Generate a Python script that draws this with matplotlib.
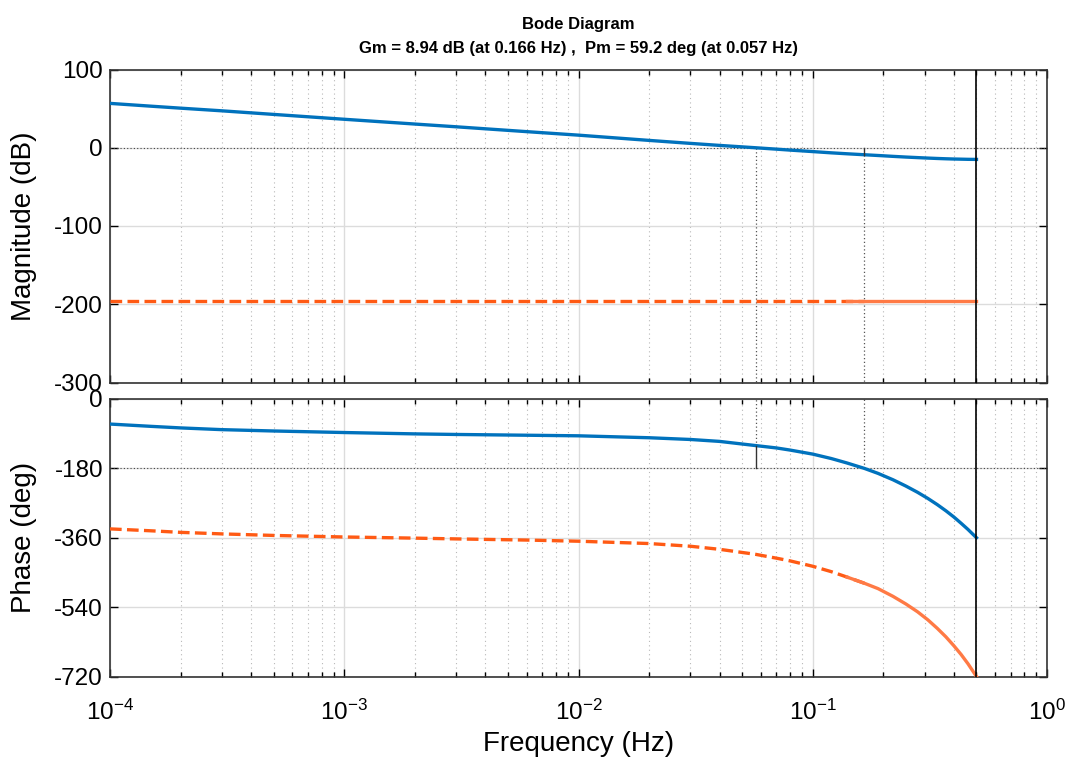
import numpy as np
import matplotlib
matplotlib.use("Agg")
import matplotlib.pyplot as plt
from matplotlib.ticker import LogLocator, NullFormatter

plt.rcParams['font.family'] = ['Liberation Sans', 'DejaVu Sans']
plt.rcParams['mathtext.fontset'] = 'custom'
plt.rcParams['mathtext.rm'] = 'Liberation Sans'
plt.rcParams['axes.unicode_minus'] = False

# values (frequency in Hz)
freq = [1e-4, 1.5e-4, 2e-4, 3e-4, 5e-4, 1e-3, 2e-3, 3e-3, 6e-3, 1e-2,
        2e-2, 3e-2, 4e-2, 0.057, 0.07, 0.08, 0.1, 0.12, 0.14, 0.166,
        0.19, 0.22, 0.25, 0.28, 0.31, 0.34, 0.37, 0.4, 0.43, 0.46, 0.5]
mag_open = [56.7, 53.1, 50.6, 47.2, 42.6, 36.4, 30.3, 26.8, 20.6, 16.1,
            9.4, 5.6, 3.0, 0.0, -1.8, -3.0, -4.9, -6.5, -7.7, -8.94,
            -9.9, -11.0, -11.9, -12.6, -13.2, -13.7, -14.1, -14.4, -14.6, -14.8, -14.9]
mag_other = [-196] * len(freq)
phase_open = [-65, -71, -75, -79.5, -83, -87, -90.5, -92, -94, -95.5,
              -100.5, -105, -110, -120.8, -127, -132.5, -143, -154.5, -166, -180,
              -193, -209.5, -226, -242, -258, -274, -290, -306, -322.5, -338.5, -360]
phase_other = [-337, -342, -346, -350, -354, -358, -361, -363, -366, -369,
               -375, -382, -390, -403, -413, -420, -434, -448, -462, -478,
               -492, -512, -532, -552, -573, -595, -617, -640, -663, -687, -720]

gm_freq, gm_db = 0.166, 8.94
pm_freq, pm_deg = 0.057, 59.2
nyq = 0.5

blue = '#0072BD'
orange = '#FF5A14'
orange_light = '#FF7A45'

fig = plt.figure(figsize=(10.7, 7.62), dpi=100)
ax1 = fig.add_axes([110 / 1070, 1 - 382.5 / 762, 937 / 1070, 313 / 762])
ax2 = fig.add_axes([110 / 1070, 1 - 676.5 / 762, 937 / 1070, 277.5 / 762])

f = np.array(freq)
dash_part = f <= 0.15
dash_part[np.argmin(dash_part)] = True      # overlap one point so the two parts join
solid_part = f >= 0.14

for ax in (ax1, ax2):
    ax.set_xscale('log')
    ax.set_xlim(1e-4, 1)
    ax.xaxis.set_major_locator(LogLocator(base=10, numticks=10))
    ax.xaxis.set_minor_locator(LogLocator(base=10, subs=np.arange(2, 10), numticks=20))
    ax.grid(True, which='major', color='#dcdcdc', linewidth=1.0, linestyle='-')
    ax.grid(True, which='minor', color='#b8b8b8', linewidth=0.8, linestyle=(0, (1, 3)))
    ax.tick_params(which='both', direction='in', top=True, right=True,
                   labelsize=17.5, colors='black', width=1.0)
    ax.tick_params(which='major', length=6, pad=5)
    ax.tick_params(which='minor', length=3.5)
    for s in ax.spines.values():
        s.set_linewidth(1.2)
        s.set_color('#333333')
    ax.axvline(nyq, color='black', linewidth=1.2, zorder=4)
    ax.set_axisbelow(True)

# magnitude
ax1.plot(freq, mag_open, color=blue, linewidth=2.4, zorder=3)
ax1.plot(f[dash_part], np.array(mag_other)[dash_part],
         color=orange, linewidth=2.4, dashes=(3.5, 1.6), zorder=3)
ax1.plot(f[solid_part], np.array(mag_other)[solid_part],
         color=orange_light, linewidth=2.4, zorder=3)
ax1.axhline(0, color='#444444', linewidth=0.8, linestyle=(0, (1, 2)), zorder=2)
ax1.plot([gm_freq, gm_freq], [0, -gm_db], color='#333333', linewidth=1.0, zorder=4)
ax1.plot([gm_freq, gm_freq], [-gm_db, -300], color='#555555', linewidth=0.9,
         linestyle=(0, (1, 2)), zorder=2)
ax1.plot([pm_freq, pm_freq], [0, -300], color='#555555', linewidth=0.9,
         linestyle=(0, (1, 2)), zorder=2)
ax1.set_ylim(-300, 100)
ax1.set_yticks([-300, -200, -100, 0, 100])
ax1.xaxis.set_major_formatter(NullFormatter())
ax1.xaxis.set_minor_formatter(NullFormatter())
ax1.set_ylabel('Magnitude (dB)', fontsize=20)
ax1.yaxis.set_label_coords(-0.078, 0.5)

# phase
ax2.plot(freq, phase_open, color=blue, linewidth=2.4, zorder=3)
ax2.plot(f[dash_part], np.array(phase_other)[dash_part],
         color=orange, linewidth=2.4, dashes=(3.5, 1.6), zorder=3)
ax2.plot(f[solid_part], np.array(phase_other)[solid_part],
         color=orange_light, linewidth=2.4, zorder=3)
ax2.axhline(-180, color='#444444', linewidth=0.8, linestyle=(0, (1, 2)), zorder=2)
ax2.plot([pm_freq, pm_freq], [-180, -180 + pm_deg], color='#333333', linewidth=1.0, zorder=4)
ax2.plot([pm_freq, pm_freq], [-180 + pm_deg, 0], color='#555555', linewidth=0.9,
         linestyle=(0, (1, 2)), zorder=2)
ax2.plot([gm_freq, gm_freq], [-180, 0], color='#555555', linewidth=0.9,
         linestyle=(0, (1, 2)), zorder=2)
ax2.set_ylim(-720, 0)
ax2.set_yticks([-720, -540, -360, -180, 0])
ax2.tick_params(axis='x', which='major', pad=17)
ax2.set_ylabel('Phase (deg)', fontsize=20)
ax2.yaxis.set_label_coords(-0.078, 0.5)
ax2.set_xlabel('Frequency (Hz)', fontsize=20, labelpad=4)

ax1.set_title('Bode Diagram\nGm = 8.94 dB (at 0.166 Hz) ,  Pm = 59.2 deg (at 0.057 Hz)',
              fontsize=12, fontweight='bold', pad=12, linespacing=1.7)

plt.savefig('out.png', dpi=100)
